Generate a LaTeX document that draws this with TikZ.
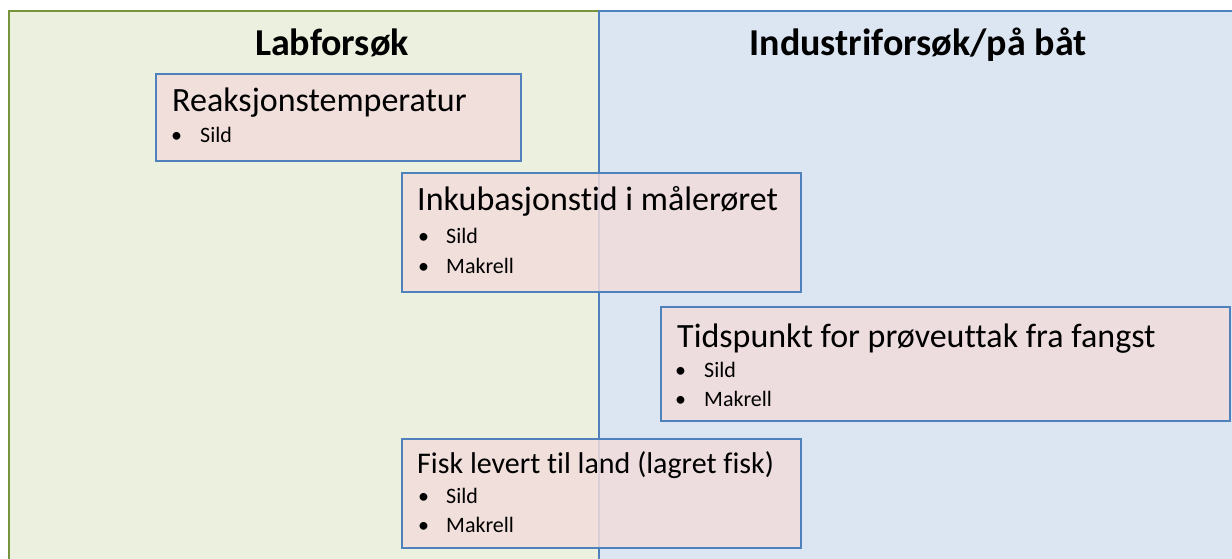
\documentclass[tikz,border=0pt]{standalone}
\usepackage{fontspec}
\setmainfont{Carlito}[Ligatures={NoCommon}]
\definecolor{labfill}{HTML}{EBF1DE}
\definecolor{labline}{HTML}{77933C}
\definecolor{indfill}{HTML}{DCE6F2}
\definecolor{indline}{HTML}{4F81BD}
\definecolor{boxfill}{HTML}{F2DCDB}
\tikzset{
  panel/.style={draw, line width=2pt, anchor=north west, inner sep=0pt},
  itembox/.style={draw=indline, line width=1.6pt, fill=boxfill, fill opacity=0.85, draw opacity=1, anchor=north west, inner sep=0pt},
  paneltitle/.style={font=\fontsize{38}{44}\selectfont\bfseries, anchor=base, inner sep=0pt},
  boxtitle/.style={font=\fontsize{34}{40}\selectfont, anchor=base west, inner sep=0pt},
  smalltitle/.style={font=\fontsize{30}{36}\selectfont, anchor=base west, inner sep=0pt},
  bulletmark/.style={font=\fontsize{22}{26}\selectfont, anchor=base west, inner sep=0pt},
  bullettext/.style={font=\fontsize{22}{26}\selectfont, anchor=base west, inner sep=0pt},
}
\begin{document}
\begin{tikzpicture}[x=1pt,y=-1pt]
\useasboundingbox (0,0) rectangle (1232,559);
\fill[white] (0,0) rectangle (1232,559);
% panels
\node[panel, draw=labline, fill=labfill, minimum width=590pt, minimum height=560pt] (lab) at (8,10) {};
\node[panel, draw=indline, fill=indfill, minimum width=650pt, minimum height=560pt] (ind) at (598,10) {};
\node[paneltitle] (labt) at (332,56) {Labforsøk};
\node[paneltitle] (indt) at (918,56) {Industriforsøk/på båt};
% box 1
\node[itembox, minimum width=365pt, minimum height=87pt] (b1) at (155,73) {};
\node[boxtitle] (b1t) at (172,112) {Reaksjonstemperatur};
\node[bulletmark] (b1m1) at (171,143) {•};
\node[bullettext] (b1s1) at (200,143) {Sild};
% box 2
\node[itembox, minimum width=399pt, minimum height=119pt] (b2) at (401,172) {};
\node[boxtitle] (b2t) at (417,211) {Inkubasjonstid i målerøret};
\node[bulletmark] (b2m1) at (418,243) {•};
\node[bullettext] (b2s1) at (446,243) {Sild};
\node[bulletmark] (b2m2) at (418,273) {•};
\node[bullettext] (b2s2) at (446,273) {Makrell};
% box 3
\node[itembox, minimum width=569pt, minimum height=114pt] (b3) at (660,306) {};
\node[boxtitle] (b3t) at (677,347) {Tidspunkt for prøveuttak fra fangst};
\node[bulletmark] (b3m1) at (675,377) {•};
\node[bullettext] (b3s1) at (704,377) {Sild};
\node[bulletmark] (b3m2) at (675,406) {•};
\node[bullettext] (b3s2) at (704,406) {Makrell};
% box 4
\node[itembox, minimum width=399pt, minimum height=109pt] (b4) at (401,438) {};
\node[smalltitle] (b4t) at (417,473) {Fisk levert til land (lagret fisk)};
\node[bulletmark] (b4m1) at (418,503) {•};
\node[bullettext] (b4s1) at (446,503) {Sild};
\node[bulletmark] (b4m2) at (418,532) {•};
\node[bullettext] (b4s2) at (446,532) {Makrell};
\end{tikzpicture}
\end{document}
